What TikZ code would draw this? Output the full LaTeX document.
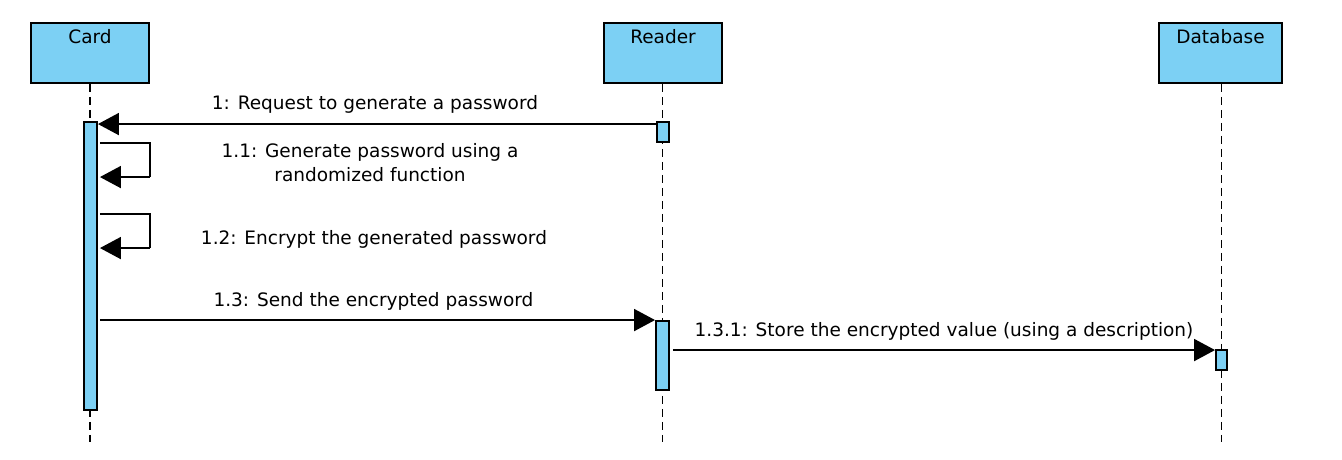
\documentclass[tikz,border=0pt]{standalone}
\usepackage{fontspec}
\setmainfont{DejaVu Sans}
\usetikzlibrary{arrows.meta,calc}
\definecolor{lb}{RGB}{124,208,244}
\begin{document}
\begin{tikzpicture}[x=1pt,y=-1pt,
  every node/.style={font=\fontsize{18.5}{24}\selectfont},
  obj/.style={draw, fill=lb, line width=1.9pt, minimum width=118pt, minimum height=60pt, inner sep=0pt},
  act/.style={draw, fill=lb, line width=1.9pt, inner sep=0pt},
  life/.style={line width=1.9pt, dash pattern=on 8pt off 5pt},
  msg/.style={line width=1.9pt, -{Triangle[length=21pt,width=22pt]}},
  mlab/.style={anchor=base, inner sep=0pt, yshift=15pt}]
\useasboundingbox (0,0) rectangle (1342,460);
% objects
\node[obj, label={[anchor=north, inner sep=0pt, yshift=-7pt]north:Card}] (card) at (90,53) {};
\node[obj, label={[anchor=north, inner sep=0pt, yshift=-7pt]north:Reader}] (reader) at (663,53) {};
\node[obj, minimum width=123pt, label={[anchor=north, inner sep=0pt, yshift=-7pt]north:Database}] (db) at (1220.5,53) {};
% lifelines
\coordinate (cend) at (90,442);
\coordinate (rend) at (662.5,442);
\coordinate (dend) at (1221.5,442);
\draw[life] (card.south) -- (cend);
\draw[life] (reader.south -| rend) -- (rend);
\draw[life] (db.south -| dend) -- (dend);
% activations
\node[act, minimum width=13pt, minimum height=288pt] (a1) at (90.5,266) {};
\node[act, minimum width=12pt, minimum height=20pt] (r1) at (663,132) {};
\node[act, minimum width=13pt, minimum height=69pt] (r2) at (662.5,355.5) {};
\node[act, minimum width=11pt, minimum height=20pt] (d1) at (1221.5,360) {};
% message 1
\coordinate (m1s) at ($(r1.north west)+(0,3)$);
\draw[msg] (m1s) -- node[mlab, pos=0.5, xshift=-2pt] {1: Request to generate a password} (m1s -| a1.east);
% self 1.1
\coordinate (s1) at ($(a1.north east)+(2,22)$);
\draw[line width=1.9pt] (s1) -- ++(50,0) coordinate (s1b) -- ++(0,34) coordinate (s1c);
\draw[msg] (s1c) -- (s1c -| s1);
\node[align=center, inner sep=0pt] (l11) at (370,163) {1.1: Generate password using a\\randomized function};
% self 1.2
\coordinate (s2) at ($(a1.north east)+(2,93)$);
\draw[line width=1.9pt] (s2) -- ++(50,0) coordinate (s2b) -- ++(0,34) coordinate (s2c);
\draw[msg] (s2c) -- (s2c -| s2);
\node[anchor=base, inner sep=0pt] (l12) at (374,244) {1.2: Encrypt the generated password};
% message 1.3
\coordinate (m3s) at ($(a1.north east)+(2,199)$);
\draw[msg] (m3s) -- node[mlab, pos=0.5, xshift=-4pt, yshift=-1.5pt] {1.3: Send the encrypted password} (m3s -| r2.west);
% message 1.3.1
\coordinate (m4s) at ($(r2.north east)+(3,30)$);
\draw[msg] (m4s) -- node[mlab, pos=0.5, yshift=-1.5pt] {1.3.1: Store the encrypted value (using a description)} (m4s -| d1.west);
\end{tikzpicture}
\end{document}
